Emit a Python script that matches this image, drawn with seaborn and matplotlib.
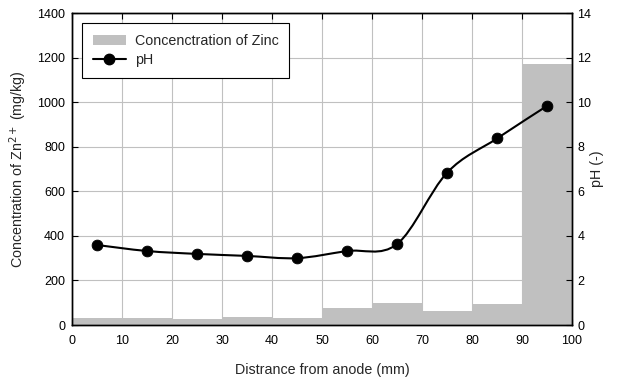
import numpy as np
import pandas as pd
import matplotlib
matplotlib.use("Agg")
import matplotlib.pyplot as plt
import seaborn as sns
from matplotlib.path import Path
from matplotlib.patches import PathPatch, Patch
from matplotlib.lines import Line2D

# Data
bin_edges = [0, 10, 20, 30, 40, 50, 60, 70, 80, 90, 100]
bin_centers = [5, 15, 25, 35, 45, 55, 65, 75, 85, 95]
zinc = [33, 33, 27, 37, 31, 76, 99, 63, 94, 1170]
ph = [3.59, 3.32, 3.19, 3.10, 3.00, 3.32, 3.63, 6.83, 8.37, 9.83]
x_ticks = [0, 10, 20, 30, 40, 50, 60, 70, 80, 90, 100]
zinc_ticks = [0, 200, 400, 600, 800, 1000, 1200, 1400]
ph_ticks = [0, 2, 4, 6, 8, 10, 12, 14]

sns.set_theme(style="white")
plt.rcParams['font.family'] = ['Liberation Sans', 'DejaVu Sans']
plt.rcParams['font.size'] = 9
LBL = 10.3

fig = plt.figure(figsize=(6.25, 3.8), dpi=100)
ax = fig.add_axes([72/625, 1-325/380, 500/625, 312/380])

df = pd.DataFrame({"x": bin_centers, "zinc": zinc, "ph": ph})
grid_c = "#c0c0c0"
ax.set_axisbelow(True)
ax.grid(True, color=grid_c, linewidth=0.8)
sns.histplot(data=df, x="x", weights="zinc", bins=bin_edges, color=grid_c,
             alpha=1, edgecolor="none", linewidth=0, ax=ax)
ax.set_xlim(0, 100)
ax.set_ylim(0, 1400)
ax.set_xticks(x_ticks)
ax.set_yticks(zinc_ticks)
ax.set_xlabel("Distrance from anode (mm)", fontsize=LBL, labelpad=12)
ax.set_ylabel("Concentration of Zn$^{2+}$ (mg/kg)", fontsize=LBL, labelpad=6)
ax.tick_params(axis='both', direction='in', length=4, width=0.8, colors='black',
               labelsize=9, top=True, bottom=True, left=True, right=False)
ax.tick_params(axis='x', pad=7)
ax.tick_params(axis='y', pad=5)
for s in ax.spines.values():
    s.set_color('black'); s.set_linewidth(1.0)

ax2 = ax.twinx()
ax2.set_ylim(0, 14)
ax2.set_yticks(ph_ticks)
ax2.tick_params(axis='y', direction='in', length=4, width=0.8, colors='black',
                labelsize=9, pad=4)
ax2.grid(False)
for s in ax2.spines.values():
    s.set_color('black'); s.set_linewidth(1.0)

# smooth line (Bezier through the data points, like a spreadsheet "smoothed line")
xs = np.array(bin_centers, float); ys = np.array(ph, float)
verts = [(xs[0], ys[0])]; codes = [Path.MOVETO]
n = len(xs)
t = 1/6
for i in range(n-1):
    p0 = (xs[max(i-1, 0)], ys[max(i-1, 0)])
    p1 = (xs[i], ys[i]); p2 = (xs[i+1], ys[i+1])
    p3 = (xs[min(i+2, n-1)], ys[min(i+2, n-1)])
    c1 = (p1[0] + (p2[0]-p0[0])*t, p1[1] + (p2[1]-p0[1])*t)
    c2 = (p2[0] - (p3[0]-p1[0])*t, p2[1] - (p3[1]-p1[1])*t)
    verts += [c1, c2, p2]; codes += [Path.CURVE4]*3
ax2.add_patch(PathPatch(Path(verts, codes), facecolor='none', edgecolor='black', lw=1.5, zorder=3))
sns.scatterplot(data=df, x="x", y="ph", color="black", s=60, edgecolor="black",
                zorder=4, ax=ax2, legend=False)
ax2.set_xlabel("")
ax2.set_ylabel("pH (-)", fontsize=LBL, labelpad=-1)

handles = [Patch(facecolor=grid_c, edgecolor='none', label='Concenctration of Zinc'),
           Line2D([0], [0], color='black', lw=1.5, marker='o', markersize=7.5, label='pH')]
leg = ax2.legend(handles=handles, loc='upper left', bbox_to_anchor=(0.02, 0.968),
                 borderaxespad=0, fontsize=LBL, frameon=True, fancybox=False,
                 edgecolor='black', framealpha=1, handlelength=2.3,
                 borderpad=0.75, labelspacing=0.4, handletextpad=0.65)
leg.get_frame().set_linewidth(0.8)

fig.savefig("out.png", dpi=100)
